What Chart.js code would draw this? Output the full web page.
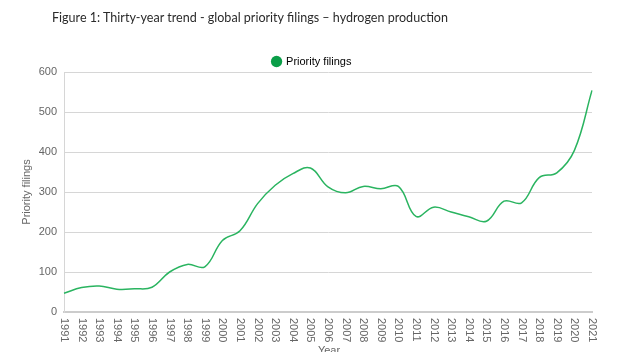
<!DOCTYPE html>
<html>
<head>
<meta charset="utf-8">
<script src="https://cdn.jsdelivr.net/npm/chart.js@4.4.1/dist/chart.umd.min.js"></script>
<style>
  html, body { margin: 0; padding: 0; background: #fff; }
  #wrap { position: relative; width: 636px; height: 352px; overflow: hidden; }
  #title { position: absolute; left: 52px; top: 8px; font-family: Lato, "Noto Sans", sans-serif; font-size: 14px; color: #2a2a2a; white-space: nowrap; transform-origin: 0 0; }
  canvas { position: absolute; left: 0; top: 0; }
</style>
</head>
<body>
<div id="wrap">
  <canvas id="c" width="636" height="352"></canvas>
  <div id="title">Figure 1: Thirty-year trend - global priority filings – hydrogen production</div>
</div>
<script>
const years = ["1991","1992","1993","1994","1995","1996","1997","1998","1999","2000",
  "2001","2002","2003","2004","2005","2006","2007","2008","2009","2010",
  "2011","2012","2013","2014","2015","2016","2017","2018","2019","2020","2021"];
const priorityFilings = [47, 61, 65, 57, 58, 62, 100, 119, 113, 179,
  203, 271, 317, 346, 360, 313, 298, 314, 308, 314,
  239, 262, 250, 238, 227, 277, 273, 336, 348, 404, 554];
const yTicks = [0, 100, 200, 300, 400, 500, 600];

// fit the title to the reference width
(function () {
  const t = document.getElementById('title');
  const w = t.getBoundingClientRect().width;
  if (w > 0) t.style.transform = 'scaleX(' + (396 / w) + ')';
})();

const legendHeightFix = {
  id: 'legendHeightFix',
  beforeLayout(chart) {
    const L = chart.legend;
    if (L && !L._hfix) {
      const f = L.fit;
      L.fit = function () { f.call(this); this.height = 17; };
      L._hfix = true;
    }
  }
};

const customLabels = {
  id: 'customLabels',
  afterDraw(chart) {
    const ctx = chart.ctx;
    const xs = chart.scales.x;
    ctx.save();
    ctx.font = '11px "Liberation Sans", Arial, sans-serif';
    ctx.fillStyle = '#666';
    ctx.textAlign = 'left';
    ctx.textBaseline = 'middle';
    years.forEach((lab, i) => {
      const px = xs.getPixelForTick(i);
      ctx.save();
      ctx.translate(px, xs.top + 6);
      ctx.rotate(Math.PI / 2);
      ctx.fillText(lab, 0, 0);
      ctx.restore();
    });
    ctx.textAlign = 'center';
    ctx.textBaseline = 'top';
    ctx.fillText('Year', (xs.left + xs.right) / 2 + 1, 345);
    ctx.restore();
  }
};

new Chart(document.getElementById('c'), {
  type: 'line',
  data: {
    labels: years,
    datasets: [{
      label: 'Priority filings',
      data: priorityFilings,
      borderColor: '#2ab460',
      backgroundColor: '#0a9e48',
      borderWidth: 1.5,
      pointRadius: 0,
      tension: 0.4,
      fill: false
    }]
  },
  options: {
    responsive: false,
    animation: false,
    layout: { padding: { top: 55, right: 12, left: 0, bottom: 0 } },
    plugins: {
      legend: {
        display: true,
        position: 'top',
        labels: {
          usePointStyle: true,
          pointStyle: 'circle',
          boxWidth: 8,
          boxHeight: 8,
          padding: 1,
          color: '#666',
          font: { family: '"Liberation Sans", Arial, sans-serif', size: 11 },
          generateLabels(chart) {
            return [{ text: 'Priority filings', fillStyle: '#0a9e48', strokeStyle: '#0a9e48', lineWidth: 0, pointStyle: 'circle', datasetIndex: 0 }];
          }
        }
      },
      title: { display: false },
      tooltip: { enabled: false }
    },
    scales: {
      x: {
        type: 'category',
        offset: false,
        grid: { display: false, drawTicks: false },
        border: { display: true, color: '#ccc', width: 2 },
        ticks: { display: false },
        afterFit(scale) { scale.height = 40; }
      },
      y: {
        min: 0, max: 600,
        afterBuildTicks(scale) { scale.ticks = yTicks.map(v => ({ value: v })); },
        grid: { color: '#d6d6d6', lineWidth: 1, drawTicks: false },
        border: { display: true, color: '#d6d6d6' },
        ticks: {
          padding: 7,
          color: '#666',
          font: { family: '"Liberation Sans", Arial, sans-serif', size: 11 }
        },
        title: {
          display: true,
          text: 'Priority filings',
          color: '#666',
          font: { family: '"Liberation Sans", Arial, sans-serif', size: 11 },
          padding: { top: 20, bottom: 0 }
        },
        afterFit(scale) { scale.width = 64; }
      },
      yRightSpace: {
        position: 'right',
        display: true,
        grid: { display: false, drawTicks: false },
        border: { display: false },
        ticks: { display: false },
        afterFit(scale) { scale.width = 32; }
      }
    }
  },
  plugins: [legendHeightFix, customLabels]
});
</script>
</body>
</html>
